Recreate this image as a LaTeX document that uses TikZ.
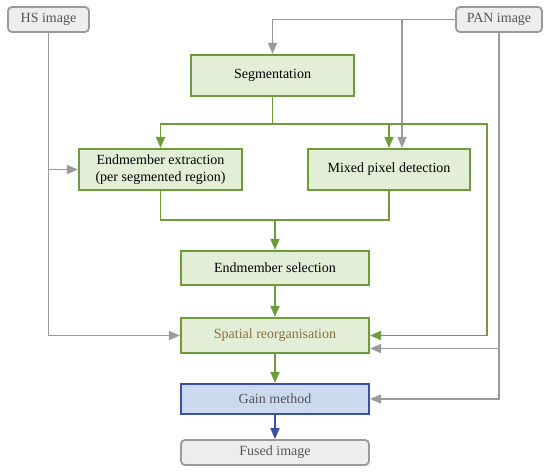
\documentclass[tikz,border=0pt]{standalone}
\usepackage{fontspec}
\setmainfont{Liberation Serif}
\usetikzlibrary{arrows.meta}
\definecolor{gline}{HTML}{9A9A9A}
\definecolor{gtext}{HTML}{555555}
\definecolor{grn}{HTML}{6E9C38}
\definecolor{grnfill}{HTML}{E2EFD6}
\definecolor{blu}{HTML}{3B4FA6}
\definecolor{blufill}{HTML}{CBDAEF}
\definecolor{gfill}{HTML}{EDEDED}
\definecolor{brn}{HTML}{8A6E42}
\begin{document}
\begin{tikzpicture}[x=1pt,y=-1pt,
  font=\fontsize{14}{16}\selectfont,
  gbox/.style={draw=gline, fill=gfill, rounded corners=4pt, line width=1.8pt, text=gtext, inner sep=0pt},
  stepbox/.style={draw=grn, fill=grnfill, line width=2.2pt, inner sep=0pt, align=center},
  bbox/.style={draw=blu, fill=blufill, line width=2.2pt, inner sep=0pt, text=gtext},
  garr/.style={draw=gline, line width=1.6pt, -{Triangle[length=11pt,width=9pt]}},
  narr/.style={draw=grn, line width=1.8pt, -{Triangle[length=11pt,width=9pt]}},
  nln/.style={draw=grn, line width=1.8pt},
  barr/.style={draw=blu, line width=1.8pt, -{Triangle[length=11pt,width=9pt]}}
]
\useasboundingbox (0,0) rectangle (550,473);

\node[gbox, minimum width=81pt, minimum height=25pt] (hs) at (48.5,19.5) {HS image};
\node[gbox, minimum width=86pt, minimum height=25pt] (pan) at (499,19.5) {PAN image};
\node[stepbox, minimum width=163pt, minimum height=41pt] (seg) at (272.5,75.5) {Segmentation};
\node[stepbox, minimum width=163pt, minimum height=41pt, font=\fontsize{14}{17}\selectfont] (ext) at (160.5,169.5) {Endmember extraction\\(per segmented region)};
\node[stepbox, minimum width=162pt, minimum height=41pt] (mix) at (389,169.5) {Mixed pixel detection};
\node[stepbox, minimum width=188pt, minimum height=34pt] (sel) at (275,268) {Endmember selection};
\node[stepbox, minimum width=188pt, minimum height=35pt, text=brn] (spat) at (275,335.5) {Spatial reorganisation};
\node[bbox, minimum width=188pt, minimum height=30pt] (gain) at (275,399) {Gain method};
\node[gbox, minimum width=188pt, minimum height=25pt] (fused) at (275,452.5) {Fused image};

\coordinate (gs) at (272.5,124);
\coordinate (gr) at (487,124);
\coordinate (jn) at (275,220);
\coordinate (spatg) at ([yshift=-13pt]spat.east);

% gray inputs
\draw[garr] (hs.south) |- (spat.west);
\draw[garr] (hs.south |- ext.west) -- (ext.west);
\draw[garr] (pan.west) -| (seg.north);
\draw[garr] ([xshift=13pt]mix.north |- pan.west) -- ([xshift=13pt]mix.north);
\draw[garr] (pan.south) |- (gain.east);
\draw[garr] (pan.south |- spatg) -- (spatg);

% green flow
\draw[nln] (seg.south) -- (gs);
\draw[narr] (gs) -| (ext.north);
\draw[narr] (gs) -- (gr) |- (spat.east);
\draw[narr] (mix.north |- gs) -- (mix.north);
\draw[nln] (ext.south) |- (jn) -| (mix.south);
\draw[narr] (jn) -- (sel.north);
\draw[narr] (sel.south) -- (spat.north);
\draw[narr] (spat.south) -- (gain.north);
\draw[barr] (gain.south) -- (fused.north);
\end{tikzpicture}
\end{document}
